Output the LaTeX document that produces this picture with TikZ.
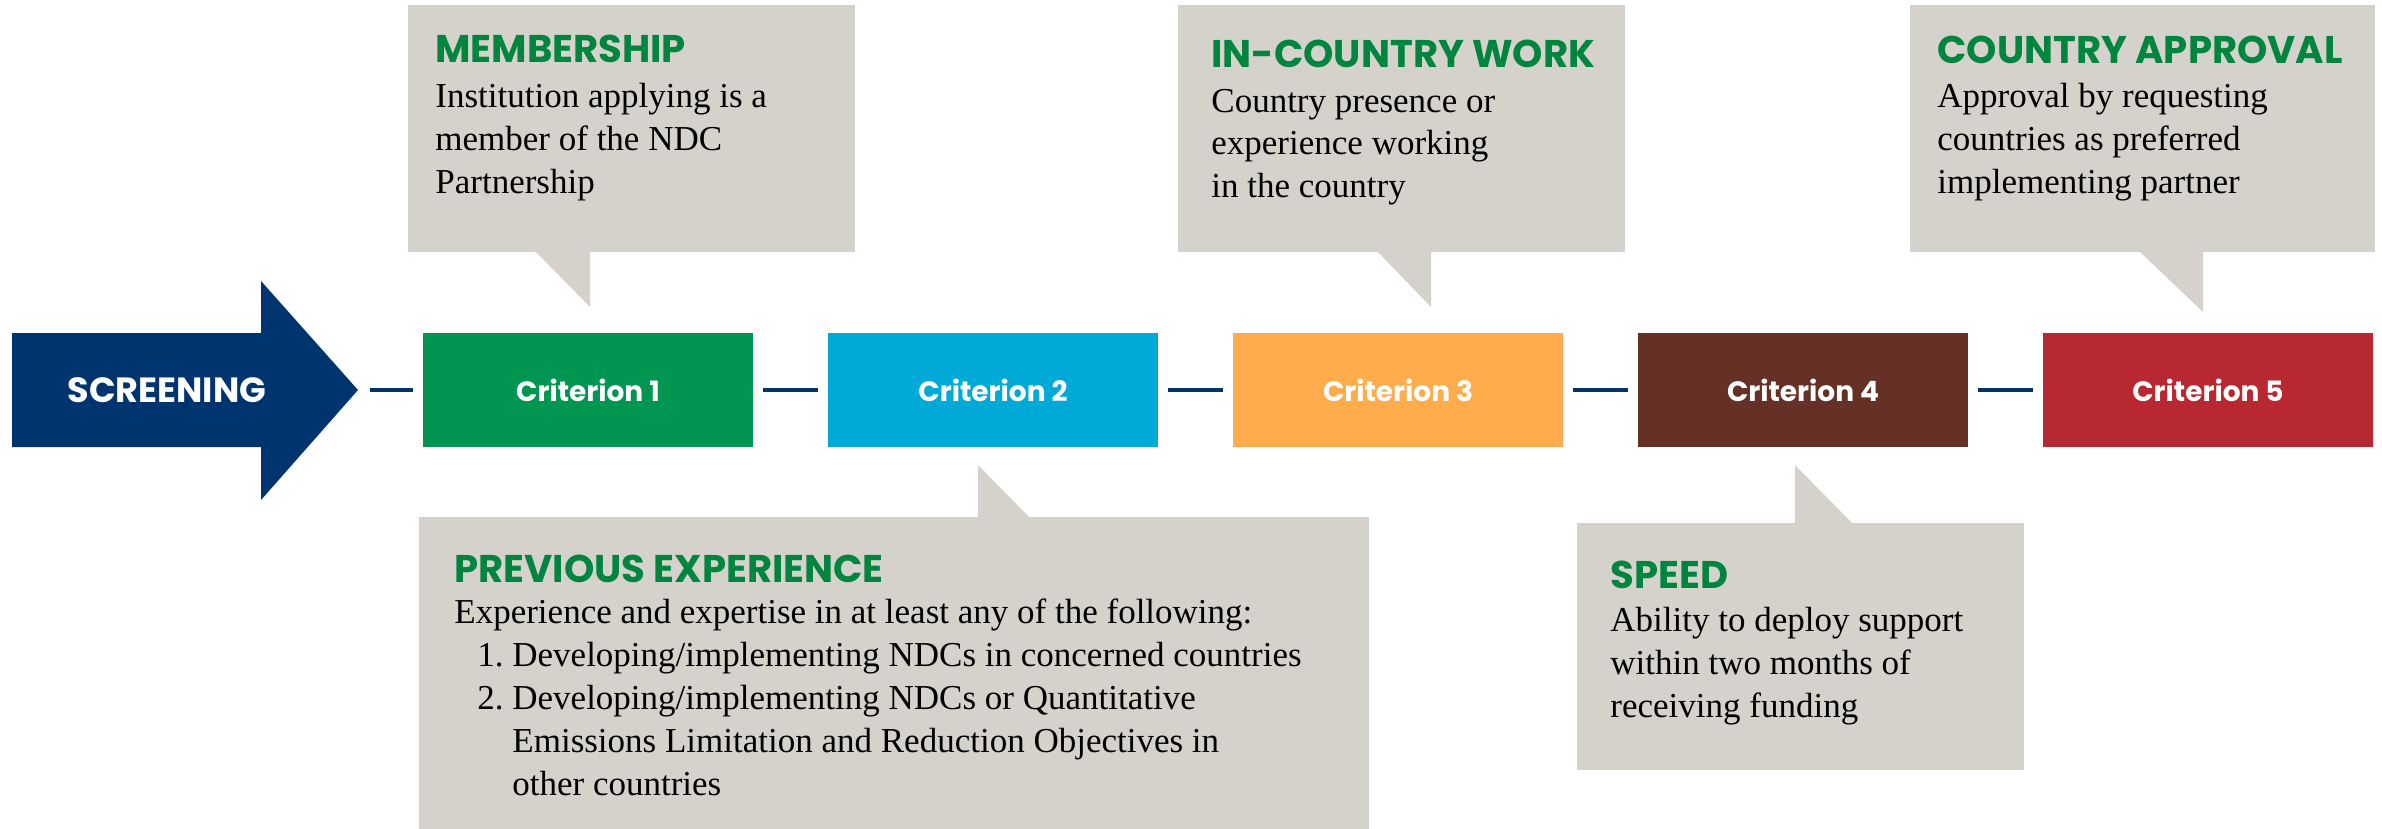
\documentclass[tikz,border=0pt]{standalone}
\usepackage{fontspec}
\setmainfont{Liberation Serif}
\newfontfamily\poppins{Poppins}
\usetikzlibrary{positioning}
\definecolor{navyblue}{HTML}{00346F}
\definecolor{critgreen}{HTML}{009652}
\definecolor{critcyan}{HTML}{00AAD7}
\definecolor{critorange}{HTML}{FFAC4C}
\definecolor{critbrown}{HTML}{653126}
\definecolor{critred}{HTML}{B72831}
\definecolor{bubblegrey}{HTML}{D5D2CB}
\definecolor{headgreen}{HTML}{00853F}

\begin{document}
\begin{tikzpicture}[x=0.5pt,y=-0.5pt,
  crit/.style={minimum width=165pt,minimum height=57pt,inner sep=0pt,text=white,font=\poppins\bfseries\fontsize{14}{16}\selectfont},
  link/.style={navyblue,line width=2pt,shorten <=5pt,shorten >=5pt},
  bubble/.style={fill=bubblegrey,inner sep=0pt,anchor=north west},
  head/.style={anchor=base west,inner sep=0pt,text=headgreen,font=\poppins\bfseries\fontsize{19.3}{22}\selectfont},
  body/.style={anchor=base west,inner sep=0pt,align=left,font=\fontsize{17.5}{21.5}\selectfont}]
\useasboundingbox (0,0) rectangle (2382,829);

\fill[navyblue] (12,333) -- (261,333) -- (261,281) -- (358,390) -- (261,500) -- (261,447) -- (12,447) -- cycle;
\node[text=white,font=\poppins\bfseries\fontsize{17.5}{19}\selectfont] (screen) at (167,390) {SCREENING};
\coordinate (tip) at (358,390);

\node[crit,fill=critgreen] (c1) at (588,390) {Criterion 1};
\node[crit,fill=critcyan,right=37.1pt of c1] (c2) {Criterion 2};
\node[crit,fill=critorange,right=37.1pt of c2] (c3) {Criterion 3};
\node[crit,fill=critbrown,right=37.1pt of c3] (c4) {Criterion 4};
\node[crit,fill=critred,right=37.1pt of c4] (c5) {Criterion 5};

\draw[link,shorten <=6pt] (tip) -- (c1);
\draw[link] (c1) -- (c2);
\draw[link] (c2) -- (c3);
\draw[link] (c3) -- (c4);
\draw[link] (c4) -- (c5);

\node[bubble,minimum width=223.5pt,minimum height=123.5pt] (membership) at (408,5) {};
\fill[bubblegrey] (535,251) -- (590,307) -- (590,251) -- cycle;
\node[head] (membershiphead) at (435,63) {MEMBERSHIP};
\node[body] (membershiptext) at (435,193) {Institution applying is a\\member of the NDC\\Partnership};

\node[bubble,minimum width=223.5pt,minimum height=123.5pt] (incountry) at (1178,5) {};
\fill[bubblegrey] (1377,251) -- (1431,307) -- (1431,251) -- cycle;
\node[head] (incountryhead) at (1211,68) {IN-COUNTRY WORK};
\node[body] (incountrytext) at (1211,198) {Country presence or\\experience working\\in the country};

\node[bubble,minimum width=232.5pt,minimum height=123.5pt] (approval) at (1910,5) {};
\fill[bubblegrey] (2139,251) -- (2203,312) -- (2203,251) -- cycle;
\node[head] (approvalhead) at (1937,64) {COUNTRY APPROVAL};
\node[body] (approvaltext) at (1937,193) {Approval by requesting\\countries as preferred\\implementing partner};

\node[bubble,minimum width=475pt,minimum height=156pt] (previous) at (419,517) {};
\fill[bubblegrey] (978,518) -- (978,465) -- (1030,518) -- cycle;
\node[head] (previoushead) at (454,582) {PREVIOUS EXPERIENCE};
\node[body] (previoustext) at (454,795) {Experience and expertise in at least any of the following:\\
  \hspace*{11.5pt}\makebox[17.5pt][l]{1.}Developing/implementing NDCs in concerned countries\\
  \hspace*{11.5pt}\makebox[17.5pt][l]{2.}Developing/implementing NDCs or Quantitative\\
  \hspace*{29pt}Emissions Limitation and Reduction Objectives in\\
  \hspace*{29pt}other countries};

\node[bubble,minimum width=223.5pt,minimum height=123.5pt] (speed) at (1577,523) {};
\fill[bubblegrey] (1795,524) -- (1795,465) -- (1853,524) -- cycle;
\node[head] (speedhead) at (1610,588) {SPEED};
\node[body] (speedtext) at (1610,717) {Ability to deploy support\\within two months of\\receiving funding};
\end{tikzpicture}
\end{document}
